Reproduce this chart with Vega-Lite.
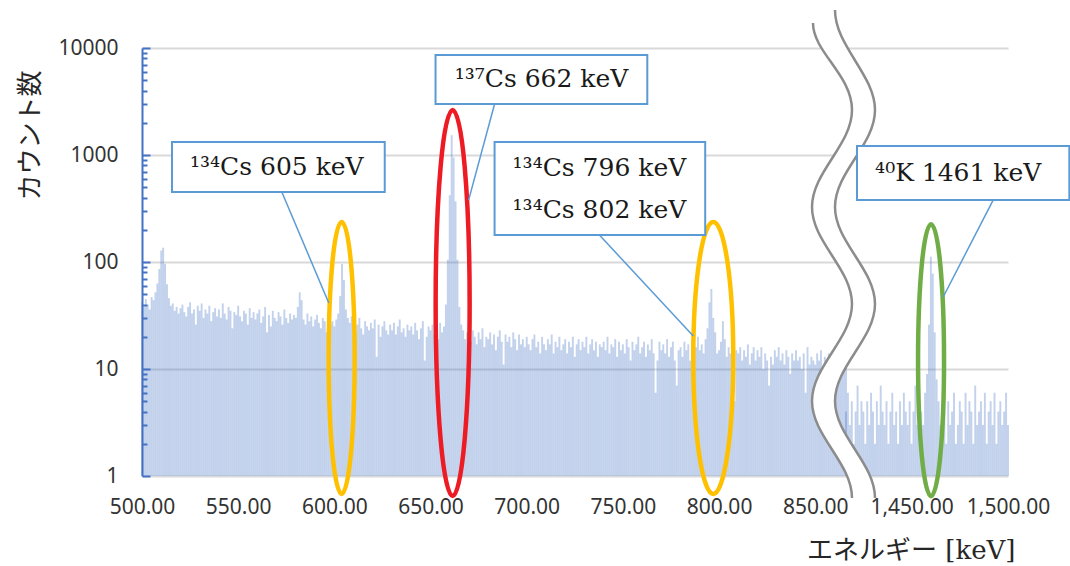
{
  "$schema": "https://vega.github.io/schema/vega-lite/v6.json",
  "width": 866,
  "height": 428,
  "autosize": {"type": "none"},
  "padding": {"left": 142, "top": 48, "right": 62, "bottom": 90},
  "background": "white",
  "config": {"view": {"stroke": null}},
  "datasets": {
    "spectrum": [
      {"e":500,"c":42},{"e":501,"c":38},{"e":502,"c":45},{"e":503,"c":40},{"e":504,"c":36},{"e":505,"c":47},{"e":506,"c":44},{"e":507,"c":52},{"e":508,"c":63},{"e":509,"c":86},
      {"e":510,"c":128},{"e":511,"c":136},{"e":512,"c":96},{"e":513,"c":62},{"e":514,"c":46},{"e":515,"c":39},{"e":516,"c":41},{"e":517,"c":35},{"e":518,"c":38},{"e":519,"c":33},
      {"e":520,"c":37},{"e":521,"c":40},{"e":522,"c":34},{"e":523,"c":31},{"e":524,"c":38},{"e":525,"c":42},{"e":526,"c":33},{"e":527,"c":36},{"e":528,"c":26},{"e":529,"c":39},
      {"e":530,"c":35},{"e":531,"c":41},{"e":532,"c":30},{"e":533,"c":36},{"e":534,"c":33},{"e":535,"c":39},{"e":536,"c":28},{"e":537,"c":34},{"e":538,"c":37},{"e":539,"c":31},
      {"e":540,"c":36},{"e":541,"c":30},{"e":542,"c":41},{"e":543,"c":33},{"e":544,"c":29},{"e":545,"c":38},{"e":546,"c":35},{"e":547,"c":24},{"e":548,"c":34},{"e":549,"c":32},
      {"e":550,"c":39},{"e":551,"c":31},{"e":552,"c":28},{"e":553,"c":35},{"e":554,"c":33},{"e":555,"c":26},{"e":556,"c":37},{"e":557,"c":30},{"e":558,"c":34},{"e":559,"c":29},
      {"e":560,"c":33},{"e":561,"c":36},{"e":562,"c":27},{"e":563,"c":31},{"e":564,"c":38},{"e":565,"c":22},{"e":566,"c":32},{"e":567,"c":25},{"e":568,"c":35},{"e":569,"c":30},
      {"e":570,"c":28},{"e":571,"c":34},{"e":572,"c":31},{"e":573,"c":26},{"e":574,"c":36},{"e":575,"c":30},{"e":576,"c":27},{"e":577,"c":33},{"e":578,"c":29},{"e":579,"c":32},
      {"e":580,"c":30},{"e":581,"c":38},{"e":582,"c":52},{"e":583,"c":44},{"e":584,"c":29},{"e":585,"c":26},{"e":586,"c":33},{"e":587,"c":28},{"e":588,"c":31},{"e":589,"c":25},
      {"e":590,"c":29},{"e":591,"c":32},{"e":592,"c":27},{"e":593,"c":24},{"e":594,"c":30},{"e":595,"c":28},{"e":596,"c":22},{"e":597,"c":31},{"e":598,"c":26},{"e":599,"c":28},
      {"e":600,"c":25},{"e":601,"c":29},{"e":602,"c":33},{"e":603,"c":48},{"e":604,"c":96},{"e":605,"c":68},{"e":606,"c":36},{"e":607,"c":30},{"e":608,"c":27},{"e":609,"c":31},
      {"e":610,"c":27},{"e":611,"c":22},{"e":612,"c":26},{"e":613,"c":30},{"e":614,"c":24},{"e":615,"c":21},{"e":616,"c":28},{"e":617,"c":25},{"e":618,"c":23},{"e":619,"c":27},
      {"e":620,"c":24},{"e":621,"c":29},{"e":622,"c":13},{"e":623,"c":26},{"e":624,"c":20},{"e":625,"c":25},{"e":626,"c":28},{"e":627,"c":23},{"e":628,"c":21},{"e":629,"c":26},
      {"e":630,"c":23},{"e":631,"c":27},{"e":632,"c":21},{"e":633,"c":25},{"e":634,"c":29},{"e":635,"c":22},{"e":636,"c":24},{"e":637,"c":20},{"e":638,"c":26},{"e":639,"c":23},
      {"e":640,"c":25},{"e":641,"c":21},{"e":642,"c":27},{"e":643,"c":23},{"e":644,"c":19},{"e":645,"c":24},{"e":646,"c":28},{"e":647,"c":12},{"e":648,"c":20},{"e":649,"c":25},
      {"e":650,"c":23},{"e":651,"c":26},{"e":652,"c":21},{"e":653,"c":24},{"e":654,"c":19},{"e":655,"c":27},{"e":656,"c":22},{"e":657,"c":25},{"e":658,"c":40},{"e":659,"c":105},
      {"e":660,"c":420},{"e":661,"c":1530},{"e":662,"c":950},{"e":663,"c":370},{"e":664,"c":105},{"e":665,"c":38},{"e":666,"c":26},{"e":667,"c":23},{"e":668,"c":19},{"e":669,"c":22},
      {"e":670,"c":21},{"e":671,"c":18},{"e":672,"c":23},{"e":673,"c":20},{"e":674,"c":17},{"e":675,"c":22},{"e":676,"c":19},{"e":677,"c":24},{"e":678,"c":16},{"e":679,"c":20},
      {"e":680,"c":19},{"e":681,"c":22},{"e":682,"c":17},{"e":683,"c":21},{"e":684,"c":15},{"e":685,"c":20},{"e":686,"c":23},{"e":687,"c":18},{"e":688,"c":11},{"e":689,"c":21},
      {"e":690,"c":18},{"e":691,"c":20},{"e":692,"c":16},{"e":693,"c":22},{"e":694,"c":19},{"e":695,"c":15},{"e":696,"c":21},{"e":697,"c":17},{"e":698,"c":19},{"e":699,"c":16},
      {"e":700,"c":20},{"e":701,"c":17},{"e":702,"c":15},{"e":703,"c":19},{"e":704,"c":21},{"e":705,"c":16},{"e":706,"c":18},{"e":707,"c":14},{"e":708,"c":20},{"e":709,"c":17},
      {"e":710,"c":15},{"e":711,"c":19},{"e":712,"c":17},{"e":713,"c":21},{"e":714,"c":14},{"e":715,"c":18},{"e":716,"c":16},{"e":717,"c":20},{"e":718,"c":15},{"e":719,"c":17},
      {"e":720,"c":19},{"e":721,"c":14},{"e":722,"c":18},{"e":723,"c":16},{"e":724,"c":20},{"e":725,"c":13},{"e":726,"c":17},{"e":727,"c":19},{"e":728,"c":15},{"e":729,"c":18},
      {"e":730,"c":16},{"e":731,"c":20},{"e":732,"c":14},{"e":733,"c":17},{"e":734,"c":19},{"e":735,"c":15},{"e":736,"c":18},{"e":737,"c":13},{"e":738,"c":17},{"e":739,"c":16},
      {"e":740,"c":18},{"e":741,"c":15},{"e":742,"c":20},{"e":743,"c":14},{"e":744,"c":17},{"e":745,"c":16},{"e":746,"c":19},{"e":747,"c":13},{"e":748,"c":18},{"e":749,"c":15},
      {"e":750,"c":17},{"e":751,"c":14},{"e":752,"c":19},{"e":753,"c":16},{"e":754,"c":12},{"e":755,"c":18},{"e":756,"c":15},{"e":757,"c":17},{"e":758,"c":20},{"e":759,"c":14},
      {"e":760,"c":16},{"e":761,"c":18},{"e":762,"c":13},{"e":763,"c":17},{"e":764,"c":15},{"e":765,"c":19},{"e":766,"c":14},{"e":767,"c":6},{"e":768,"c":12},{"e":769,"c":18},
      {"e":770,"c":15},{"e":771,"c":17},{"e":772,"c":14},{"e":773,"c":19},{"e":774,"c":13},{"e":775,"c":16},{"e":776,"c":18},{"e":777,"c":12},{"e":778,"c":7},{"e":779,"c":15},
      {"e":780,"c":16},{"e":781,"c":13},{"e":782,"c":18},{"e":783,"c":15},{"e":784,"c":17},{"e":785,"c":12},{"e":786,"c":19},{"e":787,"c":14},{"e":788,"c":16},{"e":789,"c":20},
      {"e":790,"c":15},{"e":791,"c":17},{"e":792,"c":14},{"e":793,"c":19},{"e":794,"c":24},{"e":795,"c":42},{"e":796,"c":56},{"e":797,"c":30},{"e":798,"c":22},{"e":799,"c":14},
      {"e":800,"c":15},{"e":801,"c":18},{"e":802,"c":28},{"e":803,"c":19},{"e":804,"c":13},{"e":805,"c":16},{"e":806,"c":14},{"e":807,"c":17},{"e":808,"c":5},{"e":809,"c":15},
      {"e":810,"c":14},{"e":811,"c":16},{"e":812,"c":12},{"e":813,"c":15},{"e":814,"c":13},{"e":815,"c":17},{"e":816,"c":11},{"e":817,"c":14},{"e":818,"c":16},{"e":819,"c":12},
      {"e":820,"c":15},{"e":821,"c":13},{"e":822,"c":16},{"e":823,"c":10},{"e":824,"c":14},{"e":825,"c":12},{"e":826,"c":7},{"e":827,"c":13},{"e":828,"c":11},{"e":829,"c":15},
      {"e":830,"c":13},{"e":831,"c":16},{"e":832,"c":12},{"e":833,"c":14},{"e":834,"c":11},{"e":835,"c":15},{"e":836,"c":13},{"e":837,"c":9},{"e":838,"c":14},{"e":839,"c":12},
      {"e":840,"c":15},{"e":841,"c":12},{"e":842,"c":13},{"e":843,"c":10},{"e":844,"c":14},{"e":845,"c":6},{"e":846,"c":16},{"e":847,"c":11},{"e":848,"c":13},{"e":849,"c":12},
      {"e":850,"c":11},{"e":851,"c":14},{"e":852,"c":12},{"e":853,"c":15},{"e":854,"c":10},{"e":855,"c":13},{"e":856,"c":5},{"e":857,"c":14},{"e":858,"c":12},{"e":859,"c":9},
      {"e":860,"c":13},{"e":861,"c":11},{"e":862,"c":12},{"e":863,"c":14},{"e":864,"c":10},{"e":865,"c":12},{"e":866,"c":11},
      {"e":1416,"c":4},{"e":1417,"c":6},{"e":1418,"c":3},{"e":1419,"c":5},{"e":1420,"c":2},{"e":1421,"c":4},{"e":1422,"c":7},{"e":1423,"c":3},{"e":1424,"c":5},{"e":1425,"c":4},
      {"e":1426,"c":2},{"e":1427,"c":5},{"e":1428,"c":3},{"e":1429,"c":6},{"e":1430,"c":4},{"e":1431,"c":2},{"e":1432,"c":5},{"e":1433,"c":3},{"e":1434,"c":7},{"e":1435,"c":4},
      {"e":1436,"c":3},{"e":1437,"c":5},{"e":1438,"c":2},{"e":1439,"c":4},{"e":1440,"c":6},{"e":1441,"c":3},{"e":1442,"c":4},{"e":1443,"c":2},{"e":1444,"c":5},{"e":1445,"c":3},
      {"e":1446,"c":6},{"e":1447,"c":4},{"e":1448,"c":3},{"e":1449,"c":5},{"e":1450,"c":2},{"e":1451,"c":4},{"e":1452,"c":7},{"e":1453,"c":3},{"e":1454,"c":5},{"e":1455,"c":4},
      {"e":1456,"c":3},{"e":1457,"c":6},{"e":1458,"c":9},{"e":1459,"c":26},{"e":1460,"c":112},{"e":1461,"c":78},{"e":1462,"c":22},{"e":1463,"c":8},{"e":1464,"c":5},{"e":1465,"c":3},
      {"e":1466,"c":4},{"e":1467,"c":6},{"e":1468,"c":2},{"e":1469,"c":5},{"e":1470,"c":3},{"e":1471,"c":4},{"e":1472,"c":6},{"e":1473,"c":2},{"e":1474,"c":3},{"e":1475,"c":5},
      {"e":1476,"c":4},{"e":1477,"c":2},{"e":1478,"c":6},{"e":1479,"c":3},{"e":1480,"c":5},{"e":1481,"c":4},{"e":1482,"c":2},{"e":1483,"c":7},{"e":1484,"c":3},{"e":1485,"c":4},
      {"e":1486,"c":5},{"e":1487,"c":3},{"e":1488,"c":6},{"e":1489,"c":2},{"e":1490,"c":4},{"e":1491,"c":5},{"e":1492,"c":3},{"e":1493,"c":6},{"e":1494,"c":2},{"e":1495,"c":4},
      {"e":1496,"c":5},{"e":1497,"c":3},{"e":1498,"c":4},{"e":1499,"c":6},{"e":1500,"c":3}
    ],
    "callouts": [
      {"label":"¹³⁴Cs 605 keV","e_lo":515.6,"e_hi":626.2,"c_lo":451,"c_hi":1323,"e_text":570.1,"c_text":773,"e_from":572.7,"c_from":451,"e_to":597.1,"c_to":41.4},
      {"label":"¹³⁷Cs 662 keV","e_lo":652.6,"e_hi":762.7,"c_lo":2996,"c_hi":8603,"e_text":707.7,"c_text":5082,"e_from":683.3,"c_from":2996,"e_to":669.8,"c_to":379},
      {"label":"¹³⁴Cs 796 keV\n¹³⁴Cs 802 keV","e_lo":683.3,"e_hi":792.8,"c_lo":178.8,"c_hi":1323,"e_text":737.8,"c_text":756,"e_from":737.8,"c_from":178.8,"e_to":786.6,"c_to":20.3},
      {"label":"⁴⁰K 1461 keV","e_lo":1421.7,"e_hi":1531.8,"c_lo":379,"c_hi":1213,"e_text":1474.2,"c_text":679,"e_from":1492.3,"c_from":379,"e_to":1466.4,"c_to":47.1}
    ]
  },
  "layer": [
    {
      "data": {"name": "spectrum"},
      "mark": {"type": "bar", "width": 1.93, "color": "#4472C4", "opacity": 0.32},
      "encoding": {
        "x": {"field": "e", "type": "quantitative",
          "scale": {"type": "linear", "domain": [500, 866, 1416, 1500], "range": [0, 704, 704, 866], "nice": false, "zero": false, "padding": 0},
          "axis": {"values": [500, 550, 600, 650, 700, 750, 800, 850, 1450, 1500], "format": ",.2f",
            "labelFont": "Noto Sans", "labelFontSize": 21, "labelColor": "#333333", "labelPadding": 20,
            "labelFlush": false, "labelOverlap": false, "ticks": false, "domain": false, "grid": false,
            "title": "エネルギー [keV]", "titleFont": "DejaVu Serif, Noto Sans CJK JP", "titleFontSize": 26,
            "titleFontWeight": "normal", "titleColor": "#262626", "titleX": 873, "titleY": 74,
            "titleAlign": "right", "titleBaseline": "middle"}},
        "y": {"field": "c", "type": "quantitative",
          "scale": {"type": "log", "domain": [1, 10000], "nice": false},
          "axis": {"values": [1,2,3,4,5,6,7,8,9,10,20,30,40,50,60,70,80,90,100,200,300,400,500,600,700,800,900,1000,2000,3000,4000,5000,6000,7000,8000,9000,10000],
            "labelExpr": "indexof([1,10,100,1000,10000], datum.value) >= 0 ? format(datum.value, 'd') : ''",
            "labelFont": "Noto Sans", "labelFontSize": 21, "labelColor": "#333333", "labelPadding": 32,
            "labelOverlap": false, "labelFlush": false,
            "domainColor": "#4472C4", "domainWidth": 2, "tickColor": "#4472C4", "tickWidth": 2,
            "tickSize": {"condition": {"test": "indexof([1,10,100,1000,10000], datum.value) >= 0", "value": -8}, "value": -5},
            "gridColor": "#D9D9D9", "gridWidth": 2,
            "gridOpacity": {"condition": {"test": "indexof([1,10,100,1000,10000], datum.value) >= 0", "value": 1}, "value": 0},
            "title": "カウント数", "titleFont": "Noto Sans CJK JP", "titleFontSize": 26, "titleFontWeight": "normal",
            "titleColor": "#262626", "titleAngle": 270, "titleX": -112, "titleY": 87,
            "titleAlign": "center", "titleBaseline": "middle"}},
        "y2": {"datum": 1}
      }
    },
    {
      "data": {"values": [{}]},
      "mark": {"type": "point", "shape": "M0,-136 C7.18,-136 13,-75.1 13,0 C13,75.1 7.18,136 0,136 C-7.18,136 -13,75.1 -13,0 C-13,-75.1 -7.18,-136 0,-136 Z", "size": 4, "filled": false, "stroke": "#FFC000", "strokeWidth": 4.5, "opacity": 1},
      "encoding": {
        "x": {"datum": 603.8, "type": "quantitative", "scale": {"type": "linear", "domain": [500, 866, 1416, 1500], "range": [0, 704, 704, 866], "nice": false, "zero": false, "padding": 0}},
        "y": {"datum": 12.7, "type": "quantitative", "scale": {"type": "log", "domain": [1, 10000], "nice": false}}
      }
    },
    {
      "data": {"values": [{}]},
      "mark": {"type": "point", "shape": "M0,-193 C9.39,-193 17,-106.6 17,0 C17,106.6 9.39,193 0,193 C-9.39,193 -17,106.6 -17,0 C-17,-106.6 -9.39,-193 0,-193 Z", "size": 4, "filled": false, "stroke": "#ED1C24", "strokeWidth": 4.5, "opacity": 1},
      "encoding": {
        "x": {"datum": 661.5, "type": "quantitative", "scale": {"type": "linear", "domain": [500, 866, 1416, 1500], "range": [0, 704, 704, 866], "nice": false, "zero": false, "padding": 0}},
        "y": {"datum": 41.4, "type": "quantitative", "scale": {"type": "log", "domain": [1, 10000], "nice": false}}
      }
    },
    {
      "data": {"values": [{}]},
      "mark": {"type": "point", "shape": "M0,-136 C11.05,-136 20,-75.1 20,0 C20,75.1 11.05,136 0,136 C-11.05,136 -20,75.1 -20,0 C-20,-75.1 -11.05,-136 0,-136 Z", "size": 4, "filled": false, "stroke": "#FFC000", "strokeWidth": 4.5, "opacity": 1},
      "encoding": {
        "x": {"datum": 797.0, "type": "quantitative", "scale": {"type": "linear", "domain": [500, 866, 1416, 1500], "range": [0, 704, 704, 866], "nice": false, "zero": false, "padding": 0}},
        "y": {"datum": 12.7, "type": "quantitative", "scale": {"type": "log", "domain": [1, 10000], "nice": false}}
      }
    },
    {
      "data": {"values": [{}]},
      "mark": {"type": "point", "shape": "M0,-136 C7.18,-136 13,-75.1 13,0 C13,75.1 7.18,136 0,136 C-7.18,136 -13,75.1 -13,0 C-13,-75.1 -7.18,-136 0,-136 Z", "size": 4, "filled": false, "stroke": "#70AD47", "strokeWidth": 4.5, "opacity": 1},
      "encoding": {
        "x": {"datum": 1460.1, "type": "quantitative", "scale": {"type": "linear", "domain": [500, 866, 1416, 1500], "range": [0, 704, 704, 866], "nice": false, "zero": false, "padding": 0}},
        "y": {"datum": 12.1, "type": "quantitative", "scale": {"type": "log", "domain": [1, 10000], "nice": false}}
      }
    },
    {
      "data": {"values": [{}]},
      "mark": {"type": "point", "shape": "M-33,-229 C-33,-200 6,-177 6,-142 C6,-107 -34,-80 -34,-45 C-34,-10 6,17 6,52 C6,87 -34,114 -34,149 C-34,184 6,211 6,246 L29,246 C29,211 -11,184 -11,149 C-11,114 29,87 29,52 C29,17 -11,-10 -11,-45 C-11,-80 29,-107 29,-142 C29,-177 -11,-206 -11,-242 Z", "size": 4, "filled": true, "fill": "white", "strokeWidth": 0, "opacity": 1},
      "encoding": {
        "x": {"datum": 866, "type": "quantitative", "scale": {"type": "linear", "domain": [500, 866, 1416, 1500], "range": [0, 704, 704, 866], "nice": false, "zero": false, "padding": 0}},
        "y": {"datum": 124, "type": "quantitative", "scale": {"type": "log", "domain": [1, 10000], "nice": false}}
      }
    },
    {
      "data": {"values": [{}]},
      "mark": {"type": "point", "shape": "M-33,-229 C-33,-200 6,-177 6,-142 C6,-107 -34,-80 -34,-45 C-34,-10 6,17 6,52 C6,87 -34,114 -34,149 C-34,184 6,211 6,246", "size": 4, "filled": false, "stroke": "#8C8C8C", "strokeWidth": 2.5, "opacity": 1},
      "encoding": {
        "x": {"datum": 866, "type": "quantitative", "scale": {"type": "linear", "domain": [500, 866, 1416, 1500], "range": [0, 704, 704, 866], "nice": false, "zero": false, "padding": 0}},
        "y": {"datum": 124, "type": "quantitative", "scale": {"type": "log", "domain": [1, 10000], "nice": false}}
      }
    },
    {
      "data": {"values": [{}]},
      "mark": {"type": "point", "shape": "M-11,-242 C-11,-206 29,-177 29,-142 C29,-107 -11,-80 -11,-45 C-11,-10 29,17 29,52 C29,87 -11,114 -11,149 C-11,184 29,211 29,246", "size": 4, "filled": false, "stroke": "#8C8C8C", "strokeWidth": 2.5, "opacity": 1},
      "encoding": {
        "x": {"datum": 866, "type": "quantitative", "scale": {"type": "linear", "domain": [500, 866, 1416, 1500], "range": [0, 704, 704, 866], "nice": false, "zero": false, "padding": 0}},
        "y": {"datum": 124, "type": "quantitative", "scale": {"type": "log", "domain": [1, 10000], "nice": false}}
      }
    },
    {
      "data": {"name": "callouts"},
      "mark": {"type": "rule", "color": "#5B9BD5", "strokeWidth": 1.5},
      "encoding": {
        "x": {"field": "e_from", "type": "quantitative", "scale": {"type": "linear", "domain": [500, 866, 1416, 1500], "range": [0, 704, 704, 866], "nice": false, "zero": false, "padding": 0}},
        "x2": {"field": "e_to"},
        "y": {"field": "c_from", "type": "quantitative", "scale": {"type": "log", "domain": [1, 10000], "nice": false}},
        "y2": {"field": "c_to"}
      }
    },
    {
      "data": {"name": "callouts"},
      "mark": {"type": "rect", "fill": "white", "stroke": "#5B9BD5", "strokeWidth": 2},
      "encoding": {
        "x": {"field": "e_lo", "type": "quantitative", "scale": {"type": "linear", "domain": [500, 866, 1416, 1500], "range": [0, 704, 704, 866], "nice": false, "zero": false, "padding": 0}},
        "x2": {"field": "e_hi"},
        "y": {"field": "c_lo", "type": "quantitative", "scale": {"type": "log", "domain": [1, 10000], "nice": false}},
        "y2": {"field": "c_hi"}
      }
    },
    {
      "data": {"name": "callouts"},
      "mark": {"type": "text", "font": "DejaVu Serif", "fontSize": 25, "color": "#1a1a1a", "align": "center", "baseline": "middle", "lineBreak": "\n", "lineHeight": 42},
      "encoding": {
        "x": {"field": "e_text", "type": "quantitative", "scale": {"type": "linear", "domain": [500, 866, 1416, 1500], "range": [0, 704, 704, 866], "nice": false, "zero": false, "padding": 0}},
        "y": {"field": "c_text", "type": "quantitative", "scale": {"type": "log", "domain": [1, 10000], "nice": false}},
        "text": {"field": "label"}
      }
    }
  ]
}
